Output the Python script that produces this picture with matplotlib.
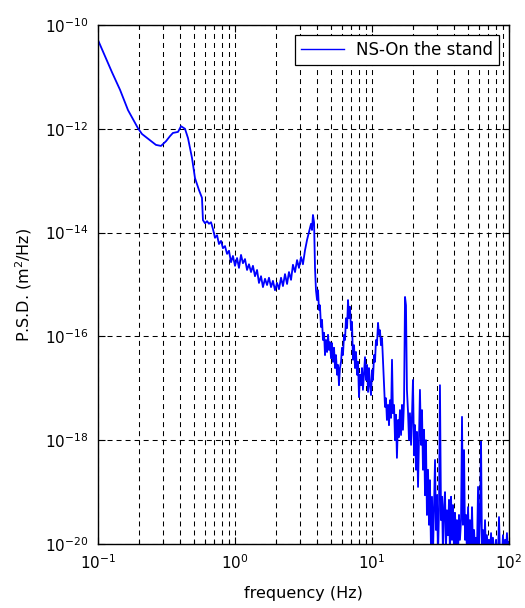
import numpy as np
import matplotlib
matplotlib.use("Agg")
import matplotlib.pyplot as plt
from matplotlib.ticker import LogLocator, NullLocator

plt.rcParams['font.family'] = ['DejaVu Sans']
plt.rcParams['lines.scale_dashes'] = False

# log10 of frequency (Hz)
log_freq = [
    -1.000, -0.949, -0.898, -0.839, -0.781, -0.708, -0.679, -0.620, -0.577, -0.540,
    -0.504, -0.474, -0.453, -0.416, -0.394, -0.365, -0.343, -0.314, -0.292, -0.263,
    -0.241,
    -0.234, -0.219, -0.204, -0.190, -0.175, -0.161, -0.146, -0.131, -0.117, -0.102,
    -0.088, -0.073, -0.058, -0.044, -0.029, -0.015, 0.000, 0.015, 0.029, 0.044,
    0.058, 0.073, 0.088, 0.102, 0.117, 0.131, 0.146, 0.161, 0.175, 0.190,
    0.204, 0.219, 0.234, 0.248, 0.263, 0.277, 0.292, 0.307, 0.321, 0.336,
    0.350, 0.365, 0.380, 0.394, 0.409, 0.423, 0.438, 0.453, 0.467, 0.482,
    0.496, 0.511, 0.526, 0.540, 0.555, 0.562, 0.569, 0.577, 0.584, 0.591,
    0.599,
    0.606, 0.613, 0.620, 0.628, 0.635, 0.642, 0.650, 0.657, 0.664, 0.672,
    0.679, 0.686, 0.693, 0.701, 0.708, 0.715, 0.723, 0.730, 0.737, 0.745,
    0.752, 0.759, 0.766, 0.774, 0.781, 0.788, 0.796, 0.803, 0.810, 0.818,
    0.825, 0.832, 0.839, 0.847, 0.854, 0.861, 0.869, 0.876, 0.883, 0.891,
    0.898, 0.905, 0.912, 0.920, 0.927, 0.934, 0.942, 0.949, 0.956, 0.964,
    0.971, 0.978, 0.985, 0.993, 1.000, 1.007, 1.015, 1.022, 1.029, 1.036,
    1.044, 1.051, 1.058, 1.066, 1.073, 1.080, 1.088, 1.095, 1.102, 1.109,
    1.117, 1.124, 1.131, 1.139, 1.146, 1.153, 1.161, 1.168, 1.175, 1.182,
    1.190, 1.197, 1.204, 1.212, 1.219, 1.226, 1.234, 1.241, 1.248, 1.255,
    1.263, 1.270, 1.277, 1.285, 1.292, 1.299, 1.307, 1.314, 1.321, 1.328,
    1.336, 1.343, 1.350, 1.358, 1.365, 1.372, 1.380, 1.387, 1.394, 1.401,
    1.409, 1.416, 1.423, 1.431, 1.438, 1.445, 1.453, 1.460, 1.467, 1.474,
    1.482, 1.489, 1.496, 1.504, 1.511, 1.518, 1.526, 1.533, 1.540, 1.547,
    1.555, 1.562, 1.569, 1.577, 1.584, 1.591, 1.599, 1.606, 1.613, 1.620,
    1.628, 1.635, 1.642, 1.650, 1.657, 1.664, 1.672, 1.679, 1.686, 1.693,
    1.701, 1.708, 1.715, 1.723, 1.730, 1.737, 1.745, 1.752, 1.759, 1.766,
    1.774, 1.781, 1.788, 1.796, 1.803, 1.810, 1.818, 1.825, 1.832, 1.839,
    1.847, 1.854, 1.861, 1.869, 1.876, 1.883, 1.891, 1.898, 1.905, 1.912,
    1.920, 1.927, 1.934, 1.942, 1.949, 1.956, 1.964, 1.971, 1.978, 1.985,
    1.993, 2.000]

# log10 of PSD (m^2/Hz)
log_psd = [
    -10.29, -10.60, -10.91, -11.25, -11.64, -11.99, -12.10, -12.22, -12.31, -12.33,
    -12.24, -12.14, -12.08, -12.06, -11.95, -12.00, -12.18, -12.56, -12.95, -13.18,
    -13.33,
    -13.76, -13.82, -13.78, -13.83, -13.80, -13.93, -14.10, -14.05, -14.22, -14.16,
    -14.30, -14.26, -14.41, -14.35, -14.57, -14.45, -14.64, -14.49, -14.68, -14.43,
    -14.59, -14.51, -14.72, -14.61, -14.76, -14.64, -14.84, -14.72, -14.97, -14.84,
    -15.05, -14.89, -15.01, -14.87, -15.05, -14.93, -15.11, -14.97, -15.09, -14.87,
    -15.03, -14.80, -14.99, -14.76, -14.91, -14.62, -14.76, -14.53, -14.68, -14.47,
    -14.61, -14.34, -14.14, -13.99, -13.83, -13.95, -13.66, -13.80, -14.68, -15.11,
    -15.30,
    -15.11, -15.49, -15.40, -15.82, -15.68, -16.07, -15.93, -16.36, -16.07, -16.30,
    -15.97, -16.26, -16.11, -16.42, -16.13, -16.49, -16.22, -16.61, -16.36, -16.74,
    -16.55, -16.94, -16.61, -16.49, -16.22, -16.36, -15.97, -16.07, -15.65, -15.84,
    -15.30, -15.65, -15.43, -15.88, -15.72, -16.45, -16.17, -16.61, -16.30, -16.74,
    -16.49, -17.17, -16.74, -16.94, -16.61, -17.03, -16.69, -16.40, -16.84, -16.55,
    -17.07, -16.61, -16.94, -17.13, -16.65, -16.84, -16.36, -16.49, -16.07, -16.17,
    -15.74, -15.97, -15.88, -16.17, -16.03, -16.45, -16.94, -17.36, -17.19, -17.61,
    -17.32, -17.71, -17.23, -17.57, -16.45, -17.48, -17.32, -18.00, -17.51, -18.34,
    -17.61, -17.94, -17.42, -17.90, -17.32, -17.80, -17.23, -15.24, -15.40, -17.03,
    -17.46, -18.00, -17.48, -18.09, -17.51, -16.84, -18.29, -17.71, -18.57, -17.84,
    -18.90, -18.00, -17.03, -18.09, -17.42, -18.57, -17.80, -19.06, -18.00, -19.44,
    -18.57, -19.63, -18.77, -20.20, -19.09, -20.20, -19.25, -18.38, -19.73, -19.06,
    -20.20, -19.35, -16.94, -19.54, -19.09, -20.20, -19.25, -19.00, -20.08, -19.35,
    -19.83, -19.15, -20.20, -19.09, -19.92, -19.25, -20.20, -19.40, -20.02, -19.54,
    -20.20, -19.44, -19.92, -19.54, -17.55, -19.63, -18.19, -19.92, -19.44, -20.20,
    -19.29, -20.08, -19.54, -20.20, -19.29, -20.08, -19.73, -20.20, -19.88, -20.20,
    -18.90, -20.08, -19.54, -18.03, -20.20, -19.73, -20.20, -19.54, -20.20, -19.83,
    -20.20, -19.92, -20.20, -19.79, -20.20, -19.88, -20.20, -20.20, -19.92, -20.20,
    -20.20, -19.48, -20.20, -20.02, -20.20, -19.83, -20.20, -19.92, -20.20, -19.79,
    -20.20, -19.96]

legend_label = "NS-On the stand"
x_label = "frequency (Hz)"
y_label = "P.S.D. (m$^2$/Hz)"

freq = 10.0 ** np.array(log_freq)
psd = 10.0 ** np.array(log_psd)

fig = plt.figure(figsize=(5.25, 6.08), dpi=100)
ax = fig.add_axes([98/525, 1-544/608, (509-98)/525, (544-25)/608])

ax.plot(freq, psd, color=(0, 0, 1), lw=1.3, label=legend_label)
ax.set_xscale('log')
ax.set_yscale('log')
ax.set_xlim(0.1, 100)
ax.set_ylim(1e-20, 1e-10)

ax.xaxis.set_major_locator(LogLocator(base=10, numticks=10))
ax.xaxis.set_minor_locator(LogLocator(base=10, subs=np.arange(2, 10), numticks=20))
ax.set_yticks([10.0**e for e in range(-20, -9, 2)])
ax.yaxis.set_minor_locator(NullLocator())

dash = (0, (3.6, 2.9))
ax.grid(True, which='major', axis='both', color='black', lw=0.75, linestyle=dash)
ax.grid(True, which='minor', axis='x', color='black', lw=0.75, linestyle=dash)

ax.tick_params(which='both', direction='in', top=True, right=True, labelsize=11, pad=7)
ax.tick_params(which='major', length=5, width=0.8)
ax.tick_params(which='minor', length=3, width=0.8)
for s in ax.spines.values():
    s.set_linewidth(1.0)

ax.set_xlabel(x_label, fontsize=11.5, labelpad=10)
ax.set_ylabel(y_label, fontsize=11.5, labelpad=8)

leg = ax.legend(loc='upper right', fontsize=12, frameon=True, fancybox=False,
                edgecolor='black', framealpha=1, handlelength=2.6,
                handletextpad=0.7, borderaxespad=0.6, borderpad=0.35)
leg.get_legend_handles = None
leg.get_frame().set_linewidth(0.9)
for h in leg.get_lines():
    h.set_linewidth(1.0)

fig.savefig("out.png", dpi=100)
